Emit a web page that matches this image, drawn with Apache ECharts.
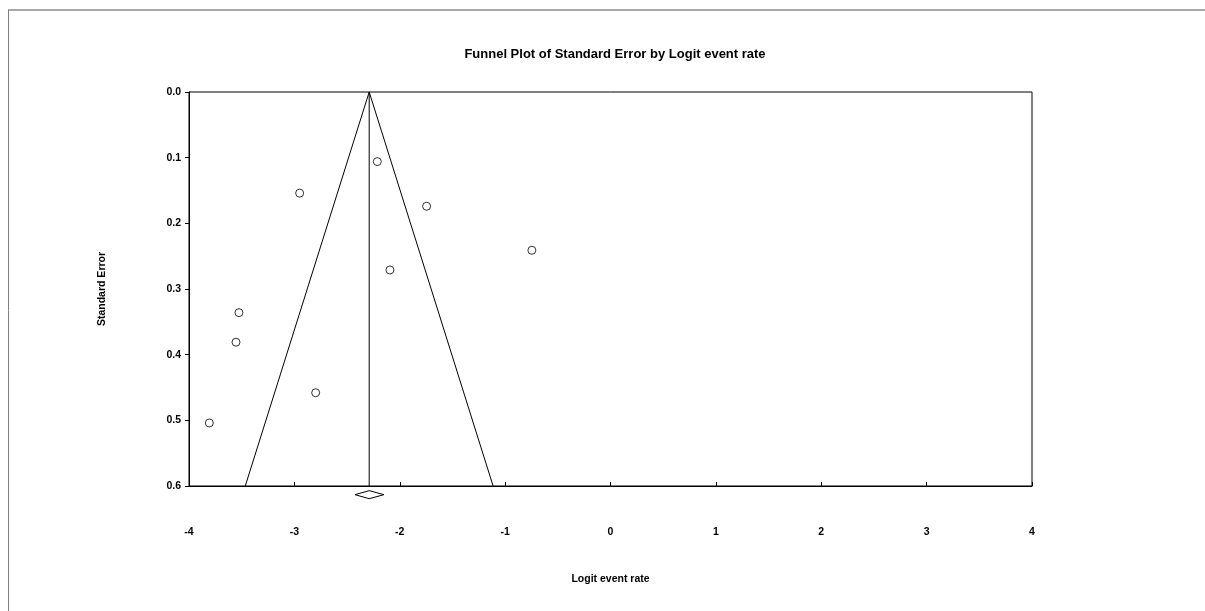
<!DOCTYPE html>
<html>
<head>
<meta charset="utf-8">
<script src="https://cdn.jsdelivr.net/npm/echarts@6/dist/echarts.min.js"></script>
<style>
html,body{margin:0;padding:0;background:#fff;}
#chart{width:1205px;height:611px;}
</style>
</head>
<body>
<div id="chart"></div>
<script>
// Study points: logit event rate (x) and standard error (y)
var studyX = [-2.213, -1.745, -0.746, -2.093, -2.950, -3.526, -3.554, -2.798, -3.807];
var studySE = [0.106, 0.174, 0.241, 0.271, 0.154, 0.336, 0.381, 0.458, 0.504];
// Funnel (pseudo 95% limits) and overall estimate line
var funnelX = [-3.466, -2.290, -1.114];
var funnelY = [0.6, 0.0, 0.6];
var centerX = [-2.290, -2.290];
var centerY = [0.0, 0.6];
// Summary diamond below axis
var diamondX = [-2.425, -2.290, -2.150, -2.290, -2.425];
var diamondY = [0.6132, 0.6071, 0.6132, 0.6193, 0.6132];
var xTicks = [-4, -3, -2, -1, 0, 1, 2, 3, 4];
var yTicks = ['0.0', '0.1', '0.2', '0.3', '0.4', '0.5', '0.6'];

function zip(a, b) { return a.map(function (v, i) { return [v, b[i]]; }); }

var FONT = '"Liberation Sans", Arial, sans-serif';
var chart = echarts.init(document.getElementById('chart'), null, {renderer: 'canvas'});
chart.setOption({
  backgroundColor: '#fff',
  animation: false,
  title: {
    text: 'Funnel Plot of Standard Error by Logit event rate',
    left: 610, top: 43, textAlign: 'center',
    textStyle: {fontFamily: FONT, fontWeight: 'bold', fontSize: 13, color: '#000'}
  },
  graphic: [
    {type: 'line', shape: {x1: 8, y1: 10, x2: 1205, y2: 10}, style: {stroke: '#a8a8a8', lineWidth: 2}, silent: true},
    {type: 'line', shape: {x1: 8.5, y1: 10, x2: 8.5, y2: 611}, style: {stroke: '#808080', lineWidth: 1}, silent: true}
  ],
  grid: {left: 189, right: 173, top: 92, bottom: 125, show: true, borderColor: '#000', borderWidth: 1, backgroundColor: 'transparent'},
  xAxis: {
    type: 'value', min: -4, max: 4, interval: 1,
    name: 'Logit event rate', nameLocation: 'middle', nameGap: 88,
    nameTextStyle: {fontFamily: FONT, fontWeight: 'bold', fontSize: 10.5, color: '#000'},
    axisLine: {show: true, onZero: false, lineStyle: {color: '#000', width: 1}},
    axisTick: {show: true, inside: true, length: 4, lineStyle: {color: '#000'}},
    axisLabel: {margin: 41, fontFamily: FONT, fontWeight: 'bold', fontSize: 10.5, color: '#000',
      formatter: function (v) { return xTicks.indexOf(v) >= 0 ? String(v) : ''; }},
    splitLine: {show: false}
  },
  yAxis: {
    type: 'value', min: 0, max: 0.6, interval: 0.1, inverse: true,
    name: 'Standard Error', nameLocation: 'middle', nameGap: 81,
    nameTextStyle: {fontFamily: FONT, fontWeight: 'bold', fontSize: 10.5, color: '#000'},
    axisLine: {show: true, onZero: false, lineStyle: {color: '#000', width: 1}},
    axisTick: {show: true, inside: false, length: 4, lineStyle: {color: '#000'}},
    axisLabel: {margin: 8, fontFamily: FONT, fontWeight: 'bold', fontSize: 10.5, color: '#000',
      formatter: function (v) { return yTicks[Math.round(v * 10)]; }},
    splitLine: {show: false}
  },
  series: [
    {type: 'line', data: zip(funnelX, funnelY), symbol: 'none', lineStyle: {color: '#000', width: 1}, silent: true},
    {type: 'line', data: zip(centerX, centerY), symbol: 'none', lineStyle: {color: '#000', width: 1}, silent: true},
    {type: 'line', data: zip(diamondX, diamondY), symbol: 'none', clip: false, lineStyle: {color: '#000', width: 1}, silent: true},
    {type: 'scatter', data: zip(studyX, studySE), symbol: 'circle', symbolSize: 8,
      itemStyle: {color: '#fff', borderColor: '#000', borderWidth: 1}}
  ]
});
</script>
</body>
</html>
